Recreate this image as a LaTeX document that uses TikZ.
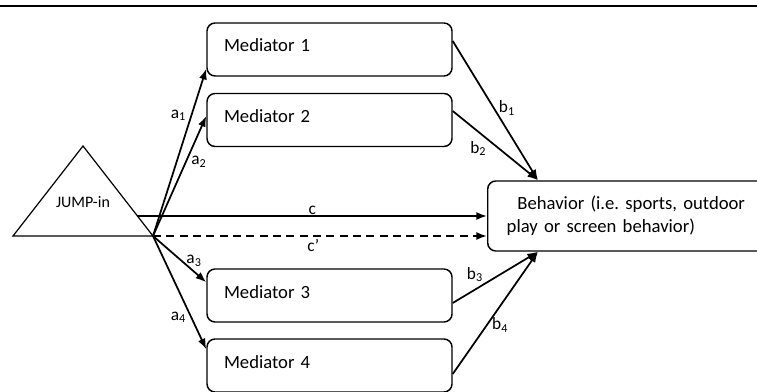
\documentclass[tikz,border=0pt]{standalone}
\usepackage{fontspec}
\setmainfont{Carlito}
\usetikzlibrary{calc,arrows.meta}

\begin{document}
\begin{tikzpicture}[x=0.75pt,y=-0.75pt,line width=1.3pt,>={Latex[length=8pt,width=6pt]}]

\tikzstyle{every node}=[font=\fontsize{14}{17}\selectfont]
\tikzstyle{mediator}=[draw, line width=1.1pt, rounded corners=6pt, align=left,
  text width=158.25pt, inner xsep=12.75pt, inner ysep=0pt,
  text height=21.75pt, text depth=18pt]
\tikzstyle{coef}=[font=\fontsize{13}{15}\selectfont]

\useasboundingbox (0,0) rectangle (757,392);
\clip (0,0) rectangle (757,392);

\draw[line width=1.5pt] (0,6) -- (757,6);

% JUMP-in triangle
\coordinate (base_left) at (13,236);
\coordinate (base_right) at (153,236);
\coordinate (apex) at (83,146);
\draw[line width=0.9pt] (base_left) -- (base_right) -- (apex) -- cycle;
\node[font=\fontsize{12}{14}\selectfont] (jump) at (83,202) {JUMP-in};
\coordinate (c_start) at ($(base_right)!0.222!(apex)$);

% mediators
\pgfmathsetmacro\x{329.5}

\node[mediator] (med1) at (\x,49.5) {Mediator 1};
\node[mediator] (med2) at (\x,120) {Mediator 2};
\node[mediator] (med3) at (\x,295.5) {Mediator 3};
\node[mediator] (med4) at (\x,365.5) {Mediator 4};

% outcome (runs past the right edge)
\node[draw, line width=1.1pt, rounded corners=6pt, align=left, anchor=west,
  text width=211.5pt, inner xsep=14.25pt, minimum height=52.5pt]
  (behavior) at (487,216)
  {\hspace*{8pt}Behavior (i.e.\ sports, outdoor\\play or screen behavior)};

\coordinate (b_top) at ($(behavior.north west)+(51,0)$);
\coordinate (b_bottom) at ($(behavior.south west)+(51,0)$);

% a paths
\draw[->] (base_right) -- node[coef, left, pos=0.72] {a\textsubscript{1}}
  ($(med1.south west)+(0,-8)$);
\draw[->] (base_right) -- node[coef, right, pos=0.62] {a\textsubscript{2}}
  ($(med2.west)+(0,-4)$);
\draw[->] (base_right) -- node[coef, above, pos=0.77] {a\textsubscript{3}}
  ($(med3.north west)+(0,14)$);
\draw[->] (base_right) -- node[coef, left, pos=0.72] {a\textsubscript{4}}
  ($(med4.north west)+(0,11)$);

% direct effects
\draw[->] (c_start) -- node[coef, above, inner sep=0.5pt] {c}
  (c_start -| behavior.west);
\draw[->,dashed,dash pattern=on 6pt off 4pt] (base_right)
  -- node[coef, below, pos=0.48, inner sep=1.5pt] {c’} (base_right -| behavior.west);

% b paths
\draw[->] ($(med1.east)+(0,-8.5)$) -- node[coef, right, pos=0.48] {b\textsubscript{1}} (b_top);
\draw[->] ($(med2.east)+(0,-9)$) -- node[coef, below, pos=0.3, yshift=-3pt] {b\textsubscript{2}} (b_top);
\draw[->] ($(med3.east)+(0,7.5)$) -- node[coef, above, pos=0.26, yshift=2pt] {b\textsubscript{3}} (b_bottom);
\draw[->] ($(med4.east)+(0,8.5)$) -- node[coef, right, pos=0.4] {b\textsubscript{4}} (b_bottom);

\end{tikzpicture}
\end{document}
